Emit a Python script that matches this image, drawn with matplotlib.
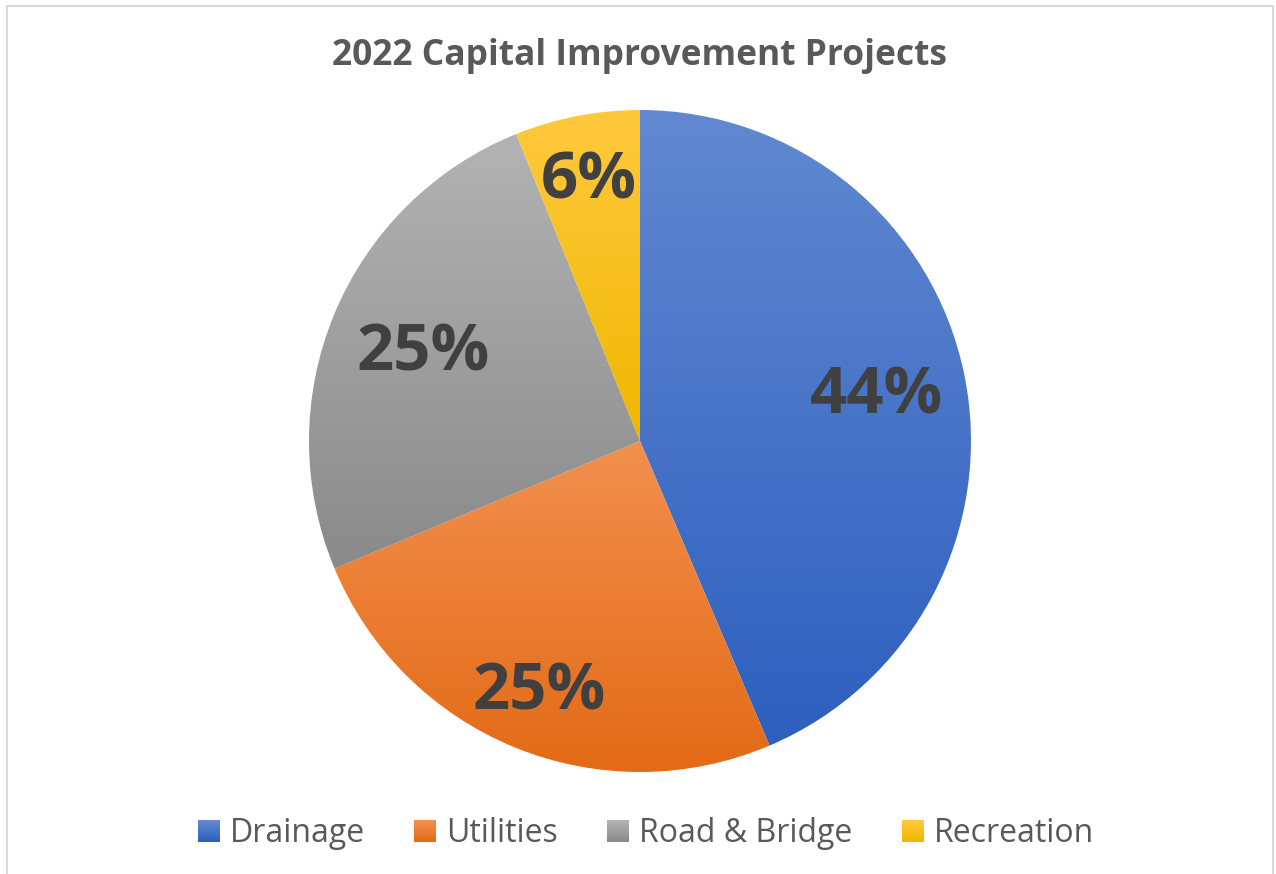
import numpy as np
import matplotlib
matplotlib.use("Agg")
import matplotlib.pyplot as plt
from matplotlib.colors import LinearSegmentedColormap, to_rgb
from matplotlib.patches import Rectangle
from matplotlib.legend_handler import HandlerBase

plt.rcParams['font.family'] = ['Open Sans', 'DejaVu Sans']

# project share of the 2022 capital budget
categories = ["Drainage", "Utilities", "Road & Bridge", "Recreation"]
shares = [43.6, 25.1, 25.2, 6.1]
label_dist = [0.73, 0.81, 0.71, 0.81]

# light (top) -> dark (bottom) fill for each slice
top_colors = ["#6189D1", "#F2904F", "#B3B3B3", "#FFC93E"]
bottom_colors = ["#2E5FBF", "#E36A16", "#8A8A8A", "#EFB700"]

W, H = 1276, 874
fig = plt.figure(figsize=(W / 100, H / 100), dpi=100)
ax = fig.add_axes([0, 0, 1, 1])
ax.set_xlim(0, W)
ax.set_ylim(0, H)
ax.axis("off")

cx, cy, R = 640, H - 441, 331
wedges, _ = ax.pie(shares, startangle=90, counterclock=False,
                   center=(cx, cy), radius=R,
                   wedgeprops=dict(facecolor="none", edgecolor="none"))

grad = np.linspace(0, 1, 256).reshape(-1, 1)
for w, c0, c1, share, d in zip(wedges, top_colors, bottom_colors, shares, label_dist):
    v = w.get_path().vertices
    x0, y0 = v.min(axis=0)
    x1, y1 = v.max(axis=0)
    cmap = LinearSegmentedColormap.from_list("g", [c0, c1])
    im = ax.imshow(grad, cmap=cmap, extent=(x0, x1, y0, y1), origin="upper",
                   aspect="auto", interpolation="bilinear", zorder=1)
    im.set_clip_path(w)
    mid = np.deg2rad((w.theta1 + w.theta2) / 2)
    ax.text(cx + d * R * np.cos(mid), cy + d * R * np.sin(mid) - 4,
            f"{share:.0f}%", ha="center", va="center",
            fontsize=47, fontweight="bold", color="#404040", zorder=3)

ax.set_xlim(0, W)
ax.set_ylim(0, H)

fig.text(640 / W, 1 - 56 / H, "2022 Capital Improvement Projects",
         ha="center", va="center", fontsize=25.5, fontweight="bold", color="#595959")


class GradientHandler(HandlerBase):
    def create_artists(self, legend, orig_handle, xdescent, ydescent,
                       width, height, fontsize, trans):
        c0, c1 = [np.array(to_rgb(c)) for c in orig_handle]
        n = 12
        arts = []
        for i in range(n):
            t = i / (n - 1)
            col = c0 * (1 - t) + c1 * t
            r = Rectangle((-xdescent, -ydescent + height * (1 - (i + 1) / n)),
                          width, height / n + 0.3, facecolor=col,
                          edgecolor="none", transform=trans)
            arts.append(r)
        return arts


handles = [(a, b) for a, b in zip(top_colors, bottom_colors)]
fig.legend(handles, categories, handler_map={tuple: GradientHandler()},
           loc="center", bbox_to_anchor=(646 / W, 1 - 834 / H), ncol=4,
           frameon=False, fontsize=23, labelcolor="#595959",
           handlelength=0.69, handleheight=0.69, handletextpad=0.31,
           columnspacing=1.55)

fig.patches.append(Rectangle((7 / W, -0.01), 1266 / W, 1 - 6 / H + 0.01,
                             transform=fig.transFigure, fill=False,
                             edgecolor="#D9D9D9", linewidth=1.5))

fig.savefig("out.png", dpi=100)
